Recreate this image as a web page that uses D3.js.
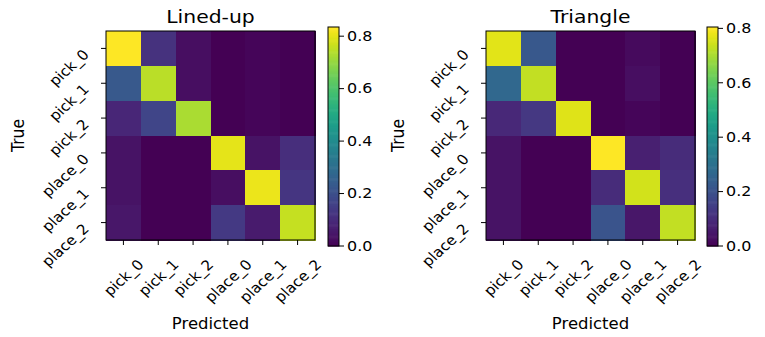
<!DOCTYPE html>
<html><head><meta charset="utf-8">
<script src="https://cdn.jsdelivr.net/npm/d3@7/dist/d3.min.js"></script>
<style>
body{margin:0;background:#fff;}
svg text{font-family:"DejaVu Sans",sans-serif;fill:#000;}
</style></head>
<body><svg id="c" width="765" height="337"></svg>
<script>
const labels = ["pick_0","pick_1","pick_2","place_0","place_1","place_2"];
const titles = ["Lined-up","Triangle"];
const linedUp = [
  [0.835,0.12,0.03,0.00,0.01,0.00],
  [0.23,0.75,0.03,0.00,0.01,0.00],
  [0.09,0.17,0.73,0.00,0.01,0.00],
  [0.04,0.00,0.00,0.80,0.04,0.11],
  [0.04,0.00,0.00,0.03,0.81,0.13],
  [0.05,0.00,0.00,0.14,0.06,0.76]
];
const triangle = [
  [0.77,0.22,0.00,0.00,0.02,0.00],
  [0.27,0.73,0.00,0.00,0.03,0.00],
  [0.09,0.13,0.765,0.00,0.01,0.00],
  [0.04,0.00,0.00,0.805,0.07,0.10],
  [0.04,0.00,0.00,0.10,0.75,0.11],
  [0.04,0.00,0.00,0.21,0.05,0.73]
];
const cbTicks = [0,0.2,0.4,0.6,0.8];

const SX = 1.1;
const svg = d3.select("#c");
const panels = [
  {data: linedUp, title: titles[0], x0: 106, cbx: 328},
  {data: triangle, title: titles[1], x0: 486, cbx: 707}
];
const y0 = 31, size = 209;

panels.forEach(p => {
  const vmax = d3.max(p.data.flat());
  const color = d3.scaleSequential(d3.interpolateViridis).domain([0, vmax]);
  const x = d3.scaleBand().domain(labels).range([p.x0, p.x0+size]);
  const y = d3.scaleBand().domain(labels).range([y0, y0+size]);
  const g = svg.append("g");
  const cells = [];
  p.data.forEach((row,i)=>row.forEach((v,j)=>cells.push({r:labels[i],c:labels[j],v})));
  g.selectAll("rect.cell").data(cells).enter().append("rect")
    .attr("x", d=>x(d.c)).attr("y", d=>y(d.r))
    .attr("width", x.bandwidth()+0.5).attr("height", y.bandwidth()+0.5)
    .attr("fill", d=>color(d.v)).attr("shape-rendering","crispEdges");
  g.append("rect").attr("x",p.x0).attr("y",y0).attr("width",size).attr("height",size)
    .attr("fill","none").attr("stroke","#000").attr("stroke-width",1);
  labels.forEach(l=>{
    const cx = x(l)+x.bandwidth()/2;
    g.append("line").attr("x1",cx).attr("x2",cx).attr("y1",y0+size).attr("y2",y0+size+5).attr("stroke","#000");
    const cy = y(l)+y.bandwidth()/2;
    g.append("line").attr("x1",p.x0-5).attr("x2",p.x0).attr("y1",cy).attr("y2",cy).attr("stroke","#000");
    g.append("text").attr("font-size",14).attr("text-anchor","end")
      .attr("transform",`translate(${p.x0-16},${cy+7}) scale(${SX},1) rotate(-45)`).text(l);
    const wrap = g.append("g");
    wrap.append("text").attr("font-size",14).attr("text-anchor","end")
      .attr("transform",`scale(${SX},1) rotate(-45)`).text(l);
    const bb = wrap.node().getBBox();
    wrap.attr("transform",`translate(${cx-(bb.x+bb.width/2)},${y0+size+16-bb.y})`);
  });
  g.append("text").attr("font-size",18.5).attr("text-anchor","middle")
    .attr("transform",`translate(${p.x0+size/2},${y0-8}) scale(${SX},1)`).text(p.title);
  g.append("text").attr("font-size",15).attr("text-anchor","middle")
    .attr("transform",`translate(${p.x0+size/2},329) scale(${SX},1)`).text("Predicted");
  g.append("text").attr("font-size",15.5).attr("text-anchor","middle")
    .attr("transform",`translate(${p.x0-82},${y0+size/2}) scale(${SX},1) rotate(-90)`).text("True");
  const cbTop = 27, cbBot = 246, cbW = 11;
  const cy = d3.scaleLinear().domain([0,vmax]).range([cbBot,cbTop]);
  const steps = d3.range(0,200);
  g.selectAll("rect.cb").data(steps).enter().append("rect")
    .attr("x",p.cbx).attr("width",cbW)
    .attr("y",d=>cy(vmax*(d+1)/200)).attr("height",d=>cy(vmax*d/200)-cy(vmax*(d+1)/200)+0.6)
    .attr("fill",d=>color(vmax*(d+0.5)/200));
  g.append("rect").attr("x",p.cbx).attr("y",cbTop).attr("width",cbW).attr("height",cbBot-cbTop)
    .attr("fill","none").attr("stroke","#000").attr("stroke-width",1);
  cbTicks.forEach(t=>{
    g.append("line").attr("x1",p.cbx+cbW).attr("x2",p.cbx+cbW+5).attr("y1",cy(t)).attr("y2",cy(t)).attr("stroke","#000");
    g.append("text").attr("font-size",14.5).attr("dominant-baseline","central")
      .attr("transform",`translate(${p.cbx+cbW+8},${cy(t)}) scale(${SX},1)`).text(t.toFixed(1));
  });
});
</script></body></html>
